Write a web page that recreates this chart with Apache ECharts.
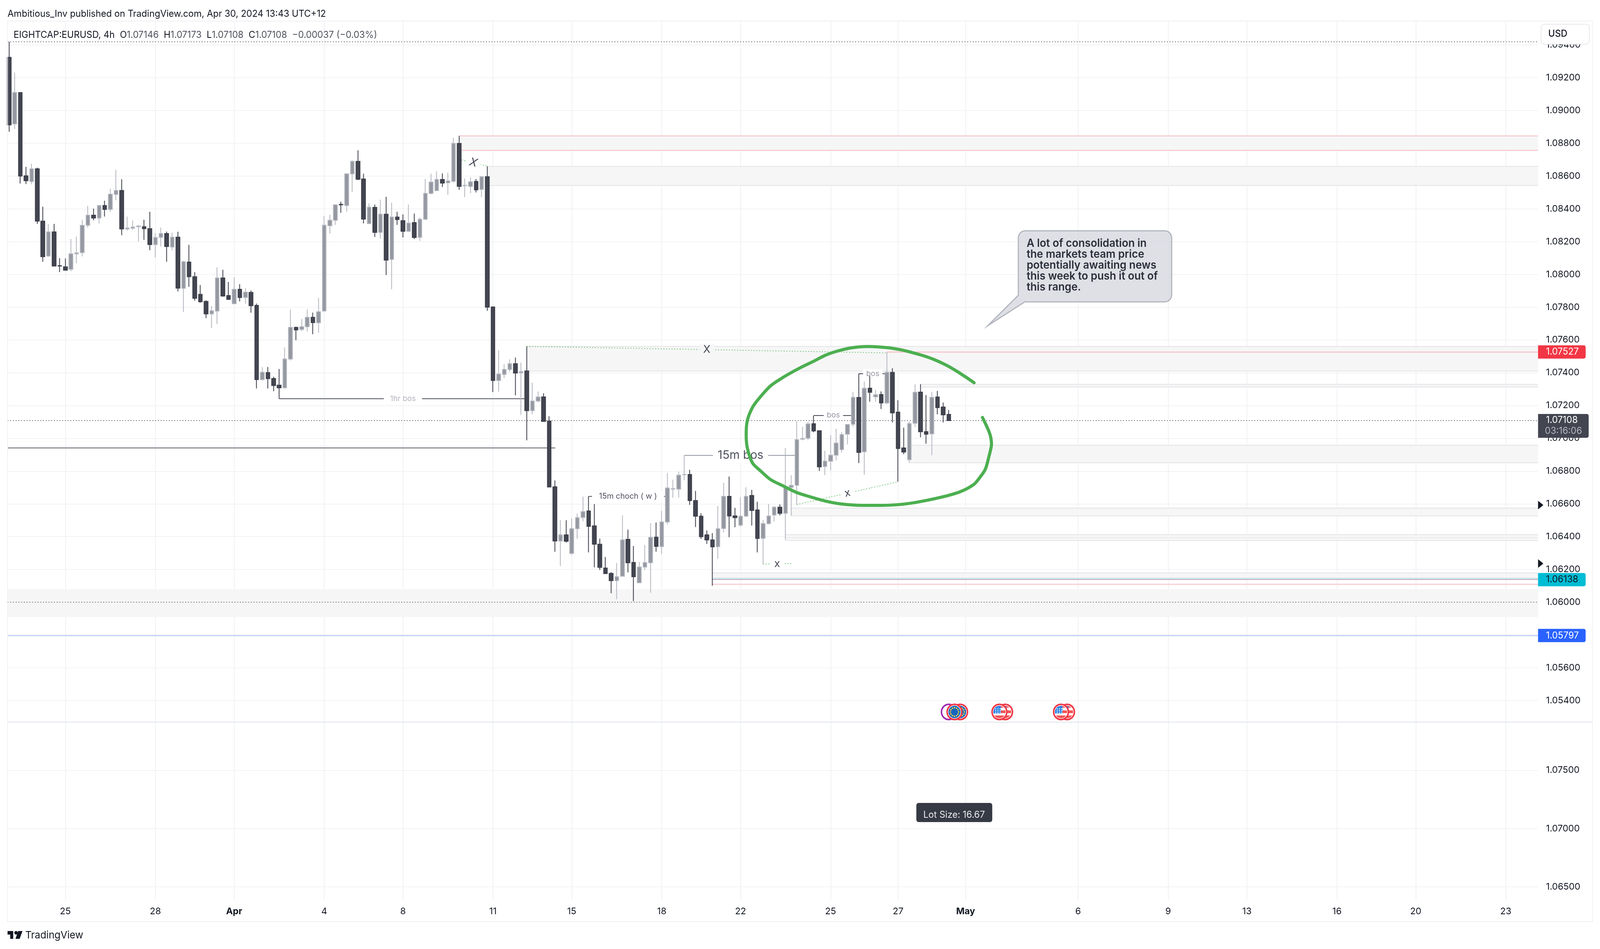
<!DOCTYPE html>
<html>
<head>
<meta charset="utf-8">
<title>EIGHTCAP:EURUSD 4h</title>
<script src="https://cdn.jsdelivr.net/npm/echarts@6/dist/echarts.min.js"></script>
<style>
html, body { margin: 0; background: #fff; }
#chart { width: 100vw; height: 100vh; }
</style>
</head>
<body>
<div id="chart"></div>
<script>
// candles, oldest first
const opens = [
1.09324,1.08918,1.09109,1.08601,1.08566,1.08644,1.08325,1.08112,1.08259,1.08053,
1.08046,1.08031,1.08125,1.08133,1.08300,1.08361,1.08344,1.08420,1.08396,1.08488,
1.08512,1.08277,1.08282,1.08291,1.08291,1.08279,1.08182,1.08226,1.08249,1.08167,
1.08227,1.07915,1.08075,1.07986,1.07878,1.07835,1.07759,1.07776,1.07978,1.07871,
1.07821,1.07909,1.07859,1.07890,1.07811,1.07358,1.07401,1.07365,1.07324,1.07308,
1.07484,1.07677,1.07664,1.07681,1.07738,1.07705,1.07777,1.08297,1.08330,1.08427,
1.08420,1.08613,1.08689,1.08582,1.08310,1.08409,1.08256,1.08367,1.08091,1.08350,
1.08328,1.08263,1.08316,1.08226,1.08336,1.08494,1.08511,1.08579,1.08559,1.08568,
1.08799,1.08541,1.08536,1.08567,1.08518,1.08596,1.07801,1.07353,1.07390,1.07420,
1.07455,1.07399,1.07411,1.07169,1.07228,1.07253,1.07105,1.06704,1.06374,1.06411,
1.06298,1.06449,1.06517,1.06557,1.06466,1.06354,1.06209,1.06176,1.06132,1.06159,
1.06384,1.06243,1.06119,1.06215,1.06241,1.06397,1.06340,1.06490,1.06690,1.06690,
1.06778,1.06779,1.06620,1.06525,1.06411,1.06380,1.06339,1.06450,1.06646,1.06527,
1.06470,1.06525,1.06651,1.06563,1.06390,1.06480,1.06532,1.06580,1.06543,1.06701,
1.06714,1.06995,1.07001,1.07089,1.07046,1.06828,1.06860,1.06897,1.06931,1.07025,
1.07086,1.07249,1.06918,1.07306,1.07253,1.07267,1.07216,1.07402,1.07160,1.06941,
1.06870,1.07092,1.07282,1.07041,1.07027,1.07252,1.07191,1.07146
];
const highs = [
1.09419,1.09231,1.09110,1.08656,1.08675,1.08651,1.08413,1.08306,1.08308,1.08099,
1.08097,1.08216,1.08231,1.08333,1.08418,1.08401,1.08421,1.08449,1.08522,1.08638,
1.08580,1.08352,1.08329,1.08301,1.08333,1.08382,1.08252,1.08285,1.08261,1.08255,
1.08260,1.08085,1.08180,1.08014,1.07935,1.07842,1.07807,1.08043,1.08028,1.07954,
1.07983,1.07940,1.07916,1.07902,1.07822,1.07435,1.07435,1.07376,1.07423,1.07554,
1.07785,1.07681,1.07728,1.07787,1.07767,1.07857,1.08356,1.08364,1.08427,1.08443,
1.08618,1.08695,1.08757,1.08614,1.08433,1.08426,1.08456,1.08473,1.08438,1.08382,
1.08366,1.08426,1.08371,1.08348,1.08582,1.08614,1.08629,1.08616,1.08621,1.08833,
1.08845,1.08585,1.08592,1.08582,1.08598,1.08659,1.07805,1.07537,1.07452,1.07482,
1.07492,1.07462,1.07560,1.07339,1.07286,1.07275,1.07134,1.06743,1.06502,1.06500,
1.06510,1.06541,1.06644,1.06646,1.06599,1.06388,1.06276,1.06184,1.06240,1.06530,
1.06443,1.06343,1.06246,1.06349,1.06482,1.06486,1.06557,1.06788,1.06748,1.06796,
1.06897,1.06808,1.06679,1.06543,1.06438,1.06422,1.06587,1.06729,1.06767,1.06576,
1.06642,1.06701,1.06686,1.06613,1.06502,1.06600,1.06587,1.06597,1.06942,1.06775,
1.07104,1.07070,1.07100,1.07138,1.07048,1.06924,1.07020,1.07058,1.07039,1.07085,
1.07284,1.07394,1.07346,1.07380,1.07297,1.07286,1.07526,1.07427,1.07232,1.07065,
1.07102,1.07330,1.07330,1.07264,1.07284,1.07289,1.07218,1.07173
];
const lows = [
1.08870,1.08887,1.08554,1.08551,1.08549,1.08308,1.08077,1.08107,1.08051,1.08014,
1.08022,1.08019,1.08068,1.08110,1.08286,1.08330,1.08311,1.08353,1.08382,1.08452,
1.08239,1.08267,1.08271,1.08201,1.08211,1.08147,1.08103,1.08170,1.08077,1.08146,
1.07896,1.07770,1.07924,1.07840,1.07828,1.07733,1.07673,1.07697,1.07864,1.07847,
1.07821,1.07835,1.07821,1.07766,1.07304,1.07352,1.07304,1.07287,1.07242,1.07304,
1.07474,1.07598,1.07654,1.07652,1.07635,1.07644,1.07771,1.08249,1.08302,1.08376,
1.08383,1.08502,1.08575,1.08311,1.08310,1.08228,1.08218,1.07996,1.07909,1.08302,
1.08225,1.08260,1.08215,1.08204,1.08334,1.08488,1.08510,1.08533,1.08485,1.08560,
1.08516,1.08471,1.08495,1.08500,1.08471,1.07778,1.07282,1.07285,1.07367,1.07406,
1.07262,1.07144,1.06988,1.07147,1.07219,1.07101,1.06703,1.06308,1.06221,1.06364,
1.06289,1.06387,1.06494,1.06304,1.06213,1.06197,1.06175,1.06055,1.06018,1.06159,
1.06182,1.06007,1.06119,1.06197,1.06058,1.06308,1.06294,1.06475,1.06637,1.06639,
1.06744,1.06594,1.06459,1.06386,1.06356,1.06101,1.06265,1.06425,1.06397,1.06458,
1.06461,1.06525,1.06468,1.06304,1.06232,1.06475,1.06492,1.06530,1.06380,1.06527,
1.06596,1.06988,1.06990,1.07037,1.06801,1.06776,1.06805,1.06865,1.06913,1.06963,
1.07070,1.06849,1.06778,1.07223,1.07223,1.07179,1.07208,1.07097,1.06735,1.06903,
1.06851,1.07069,1.07006,1.06967,1.06897,1.07146,1.07097,1.07108
];
const closes = [
1.08912,1.09109,1.08600,1.08571,1.08644,1.08325,1.08108,1.08259,1.08051,1.08051,
1.08026,1.08125,1.08131,1.08299,1.08361,1.08344,1.08420,1.08396,1.08489,1.08512,
1.08277,1.08283,1.08289,1.08295,1.08279,1.08182,1.08225,1.08249,1.08170,1.08227,
1.07916,1.08077,1.07986,1.07854,1.07833,1.07759,1.07778,1.07978,1.07868,1.07847,
1.07909,1.07859,1.07892,1.07809,1.07358,1.07403,1.07364,1.07322,1.07308,1.07484,
1.07677,1.07661,1.07681,1.07738,1.07706,1.07772,1.08300,1.08330,1.08424,1.08424,
1.08613,1.08689,1.08580,1.08337,1.08410,1.08256,1.08367,1.08087,1.08350,1.08334,
1.08263,1.08313,1.08225,1.08336,1.08494,1.08563,1.08579,1.08557,1.08570,1.08799,
1.08537,1.08543,1.08565,1.08516,1.08596,1.07800,1.07353,1.07392,1.07420,1.07455,
1.07398,1.07407,1.07169,1.07227,1.07252,1.07103,1.06703,1.06374,1.06411,1.06372,
1.06449,1.06516,1.06553,1.06463,1.06354,1.06213,1.06175,1.06132,1.06156,1.06380,
1.06241,1.06156,1.06215,1.06242,1.06396,1.06341,1.06490,1.06697,1.06693,1.06775,
1.06780,1.06620,1.06525,1.06400,1.06380,1.06338,1.06449,1.06646,1.06526,1.06516,
1.06525,1.06646,1.06560,1.06389,1.06480,1.06526,1.06580,1.06542,1.06698,1.06713,
1.06992,1.06999,1.07088,1.07045,1.06826,1.06861,1.06897,1.06971,1.07023,1.07084,
1.07250,1.06914,1.07305,1.07281,1.07266,1.07216,1.07403,1.07155,1.06938,1.06916,
1.07090,1.07281,1.07040,1.07025,1.07250,1.07187,1.07143,1.07108
];

// axis ticks
const xTickIndexes = [10, 26, 40, 56, 70, 86, 100, 116, 130, 146, 158, 170, 190, 206, 220, 236, 250, 266];
const xTickLabels = ['25', '28', 'Apr', '4', '8', '11', '15', '18', '22', '25', '27', 'May', '6', '9', '13', '16', '20', '23'];
const priceTicks = [1.094, 1.092, 1.09, 1.088, 1.086, 1.084, 1.082, 1.08, 1.078, 1.076, 1.074, 1.072, 1.07, 1.068, 1.066, 1.064, 1.062, 1.06, 1.058, 1.056, 1.054];
const lowerPaneTicks = [1.075, 1.07, 1.065];

// supply / demand zones
const zoneStarts = [80, 85, 92, 162, 160, 139, 138, 125, -0.3];
const zoneTops = [1.08845, 1.0866, 1.07561, 1.0733, 1.06958, 1.06575, 1.06413, 1.06179, 1.0608];
const zoneBottoms = [1.08757, 1.08543, 1.0741, 1.07313, 1.06851, 1.06527, 1.06377, 1.06149, 1.0591];
const zoneIsRed = [true, false, false, false, false, false, false, false, false];

// horizontal levels
const lastPrice = 1.07108;
const redLevel = 1.07527;
const cyanLevel = 1.06138;
const pinkLevel = 1.0611;
const blueLevel = 1.05797;
const dottedLevels = [1.09419, lastPrice, 1.06];
const oldStructure = 1.06942;

// structure labels: name, from candle, to candle, prices
const bosNames = ['1hr bos', '15m choch ( w )', '15m bos', 'bos', 'bos'];
const bosFrom = [48, 103, 120, 143, 151];
const bosTo = [92, 117, 140, 150, 156];
const bosPrices = [1.07242, 1.06646, 1.06897, 1.0714, 1.07394];

const liqNames = ['X', 'X', 'x', 'x'];
const liqFrom = [[80, 1.08702], [92, 1.07561], [140, 1.06596], [134, 1.06233]];
const liqTo = [[85, 1.0866], [156, 1.07521], [158, 1.06735], [139, 1.06236]];

// the hand drawn circle
const circleX = [171.5,170.1,168.4,166.7,164.3,162.2,160.2,158.5,156.1,152.6,149.9,147.5,145.1,143.1,140.7,138.6,137.2,135.3,133.3,132.1,131.2,131.0,131.2,132.1,133.6,135.3,137.6,140.0,142.7,145.1,147.8,151.6,155.0,157.8,160.2,163.3,166.3,169.1,171.5,172.5,173.5,174.2,174.6,174.4,173.9,173.0];
const circleY = [1.07339,1.07372,1.0741,1.07444,1.07482,1.07507,1.07526,1.0754,1.07553,1.0756,1.07553,1.07535,1.07507,1.07472,1.07432,1.07393,1.07364,1.07319,1.07244,1.07187,1.07108,1.07022,1.06942,1.06851,1.068,1.06749,1.06709,1.06669,1.0664,1.06617,1.066,1.06591,1.06591,1.06595,1.06604,1.06623,1.06646,1.06675,1.0672,1.0676,1.06811,1.06897,1.06965,1.07016,1.07062,1.07127];

const FONT = 'Inter, "Noto Sans", sans-serif';
const TEXT = '#131722';
const GRID = '#f3f3f5';
const X_MIN = -0.275, X_MAX = 271.74;
// layout numbers below are for a 4236x2430 frame, scaled to the real window
const PLOT_LEFT = 20, PLOT_RIGHT = 4072, PANE_TOP = 54, PANE_SPLIT = 1849, PANE_BOTTOM = 2304;

const chart = echarts.init(document.getElementById('chart'));
const sx = chart.getWidth() / 4236, sy = chart.getHeight() / 2430;
const candles = opens.map((o, i) => [i, o, closes[i], lows[i], highs[i]]);

function seg(x0, y0, x1, y1, color, width, type, label) {
	return [{
		coord: [x0, y0],
		lineStyle: { color, width, type: type || 'solid' },
		label: label || { show: false }
	}, { coord: [x1, y1] }];
}

const DOT = [2, 5];
const zoneEdges = [];
zoneStarts.forEach((s, i) => {
	const c = zoneIsRed[i] ? '#f8bcc2' : '#e4e4e8';
	zoneEdges.push(seg(s, zoneTops[i], X_MAX, zoneTops[i], c, 2));
	zoneEdges.push(seg(s, zoneBottoms[i], X_MAX, zoneBottoms[i], c, 2));
});
zoneEdges.push(seg(138, 1.06395, X_MAX, 1.06395, '#ececef', 2));

const levels = [
	seg(156, redLevel, X_MAX, redLevel, '#f8c6cb', 3),
	seg(125, cyanLevel + 0.00006, X_MAX, cyanLevel + 0.00006, '#b8e6ef', 2),
	seg(125, cyanLevel, X_MAX, cyanLevel, '#c9aab6', 2),
	seg(125, pinkLevel, X_MAX, pinkLevel, '#f8bcc2', 2),
	seg(X_MIN, blueLevel, X_MAX, blueLevel, '#c3d3fc', 3),
	seg(X_MIN, oldStructure, 97.07, oldStructure, '#5d606b', 2)
];
dottedLevels.forEach(p => levels.push(seg(X_MIN, p, X_MAX, p, '#50535e', 2, DOT)));

const bosStyle = {
	'1hr bos': { color: '#b2b5be', fontSize: 20, line: '#50535e', pad: [2, 16] },
	'15m choch ( w )': { color: '#50535e', fontSize: 20.5, line: '#50535e', pad: [2, 18] },
	'15m bos': { color: '#50535e', fontSize: 31, line: '#9598a1', pad: [2, 12] },
	'bos': { color: '#9598a1', fontSize: 20, line: '#434651', pad: [2, 8] }
};
bosNames.forEach((name, i) => {
	const st = bosStyle[name];
	levels.push(seg(bosFrom[i], bosPrices[i], bosTo[i], bosPrices[i], st.line, 2, 'solid', {
		show: true, position: 'insideMiddle', formatter: name, color: st.color,
		fontFamily: FONT, fontSize: st.fontSize * sx, backgroundColor: '#fff', padding: st.pad, distance: 0
	}));
});
liqNames.forEach((name, i) => {
	const bg = i === 1 ? '#f6f6f7' : '#fff';
	levels.push(seg(liqFrom[i][0], liqFrom[i][1], liqTo[i][0], liqTo[i][1], '#4caf50', 2, DOT, {
		show: true, position: 'insideMiddle', formatter: name, color: '#434651',
		fontFamily: FONT, fontSize: (i === 0 ? 30 : 28) * sx, fontStyle: i === 0 ? 'italic' : 'normal',
		backgroundColor: bg, padding: [0, 10], distance: 0
	}));
});

chart.setOption({
	animation: false,
	backgroundColor: '#fff',
	grid: [
		{ left: PLOT_LEFT * sx, right: (4236 - PLOT_RIGHT) * sx, top: PANE_TOP * sy, height: (PANE_SPLIT - PANE_TOP) * sy },
		{ left: PLOT_LEFT * sx, right: (4236 - PLOT_RIGHT) * sx, top: PANE_SPLIT * sy, height: (PANE_BOTTOM - PANE_SPLIT) * sy }
	],
	xAxis: [0, 1].map(i => ({
		type: 'value', gridIndex: i, min: X_MIN, max: X_MAX,
		axisLine: { show: false },
		axisTick: { show: false, customValues: xTickIndexes },
		splitLine: { show: true, lineStyle: { color: '#f0f1f4', width: 2 } },
		axisLabel: i === 0 ? { show: false } : {
			show: true, customValues: xTickIndexes, margin: 19,
			color: TEXT, fontFamily: FONT, fontSize: 24 * sx,
			formatter: v => {
				const t = xTickLabels[xTickIndexes.indexOf(v)];
				return t === 'Apr' || t === 'May' ? '{b|' + t + '}' : t;
			},
			rich: { b: { fontWeight: 700, fontFamily: FONT, fontSize: 24 * sx, color: TEXT } }
		}
	})),
	yAxis: [
		{ min: 1.05269, max: 1.09545, ticks: priceTicks },
		{ min: 1.06389, max: 1.07913, ticks: lowerPaneTicks }
	].map((a, i) => ({
		type: 'value', gridIndex: i, position: 'right', min: a.min, max: a.max,
		axisLine: { show: false },
		axisTick: { show: false, customValues: a.ticks },
		splitLine: { show: true, lineStyle: { color: GRID, width: 2 } },
		axisLabel: {
			customValues: a.ticks, margin: 21 * sx, color: TEXT,
			fontFamily: FONT, fontSize: 24 * sx,
			formatter: v => v.toFixed(5)
		}
	})),
	series: [
		{
			name: 'zones', type: 'line', data: [], xAxisIndex: 0, yAxisIndex: 0, z: 1, silent: true,
			markArea: {
				silent: true, z: 1,
				itemStyle: { color: '#f6f6f7' },
				data: zoneStarts.map((s, i) => [{ coord: [s, zoneTops[i]] }, { coord: [X_MAX, zoneBottoms[i]] }])
			},
			markLine: { silent: true, z: 1, symbol: 'none', data: zoneEdges.concat(levels) }
		},
		{
			name: 'EURUSD', type: 'candlestick', xAxisIndex: 0, yAxisIndex: 0, z: 3,
			barWidth: 10,
			itemStyle: {
				color: '#9598a1', color0: '#434651',
				borderColor: '#b2b5be', borderColor0: '#383b46', borderWidth: 2
			},
			data: candles
		},
		{
			name: 'circle', type: 'line', xAxisIndex: 0, yAxisIndex: 0, z: 10, silent: true,
			smooth: 0.3, showSymbol: false,
			lineStyle: { color: '#4caf50', width: 8, cap: 'round' },
			data: circleX.map((x, i) => [x, circleY[i]])
		}
	]
});

// overlays that are not marks of the chart, in 4236x2430 frame units
const priceY = v => chart.convertToPixel({ yAxisIndex: 0 }, v) / sy;

function clippedRect(x0, x1, y0, y1, r) {
	const right = [], left = [];
	for (let k = 0; k <= 8; k++) {
		const y = y0 + (y1 - y0) * k / 8;
		const w = Math.sqrt(Math.max(r * r - y * y, 0));
		right.push([Math.min(x1, w), y]);
		left.unshift([Math.max(x0, -w), y]);
	}
	return right.concat(left);
}

function ring(cx, cy, stroke) {
	return { type: 'circle', x: cx, y: cy, shape: { r: 19.5 }, style: { fill: '#fff', stroke, lineWidth: 4 } };
}

function euFlag(cx, cy) {
	const els = [ring(cx, cy, '#f23645'), { type: 'circle', x: cx, y: cy, shape: { r: 16 }, style: { fill: '#1565c0' } }];
	for (let k = 0; k < 12; k++) {
		const a = k * Math.PI / 6;
		els.push({ type: 'circle', x: cx + 11 * Math.cos(a), y: cy + 11 * Math.sin(a), shape: { r: 2 }, style: { fill: '#fdd835' } });
	}
	return els;
}

function usFlag(cx, cy) {
	const els = [ring(cx, cy, '#f23645')];
	[[-16, -11], [-4, 3], [9, 16]].forEach(s => {
		els.push({ type: 'polygon', x: cx, y: cy, shape: { points: clippedRect(-16, 16, s[0], s[1], 16) }, style: { fill: '#f25555' } });
	});
	els.push({ type: 'polygon', x: cx, y: cy, shape: { points: clippedRect(-16, 4, -16, 4, 16) }, style: { fill: '#2e86e6' } });
	[[-10, -8], [-4, -8], [2, -8], [-10, -3], [-4, -3], [2, -3], [-10, 2], [-4, 2], [2, 2]].forEach(p => {
		els.push({ type: 'circle', x: cx + p[0], y: cy + p[1], shape: { r: 1.5 }, style: { fill: '#fff' } });
	});
	return els;
}

function calloutPoints() {
	const L = 2696, R = 3102, T = 591, B = 773, r = 18;
	const pts = [];
	const arc = (cx, cy, from) => {
		for (let k = 0; k <= 6; k++) {
			const a = (from + k * 15) * Math.PI / 180;
			pts.push([cx + r * Math.cos(a), cy + r * Math.sin(a)]);
		}
	};
	arc(L + r, T + r, 180);
	arc(R - r, T + r, 270);
	arc(R - r, B - r, 0);
	pts.push([2713, B], [2615, 834], [L, 756]);
	return pts;
}

function priceTag(value, bg, color) {
	const y = priceY(value);
	return [
		{ type: 'rect', shape: { x: PLOT_RIGHT, y: y - 17, width: 126, height: 34, r: [0, 5, 5, 0] }, style: { fill: bg } },
		{ type: 'text', x: 4093, y, style: { text: value.toFixed(5), fill: color, font: '24px ' + FONT, textVerticalAlign: 'middle' } }
	];
}

const lastY = priceY(lastPrice);
const triangleY = [priceY(1.06593), priceY(1.06236)];

const overlay = [
	{ type: 'rect', shape: { x: PLOT_LEFT, y: PANE_TOP, width: 4196, height: 2306 }, style: { fill: 'none', stroke: '#f0f0f3', lineWidth: 2 } },
	{ type: 'line', shape: { x1: PLOT_LEFT, y1: PANE_SPLIT, x2: 4216, y2: PANE_SPLIT }, style: { stroke: '#e0e3eb', lineWidth: 2 } },

	{
		type: 'text', x: 20, y: 36,
		style: { text: 'Ambitious_Inv published on TradingView.com, Apr 30, 2024 13:43 UTC+12', fill: TEXT, font: '24px ' + FONT, textVerticalAlign: 'middle' }
	},
	{
		type: 'text', x: 36, y: 90,
		style: {
			text: '{k|EIGHTCAP:EURUSD, 4h  O}{v|1.07146}{k|  H}{v|1.07173}{k|  L}{v|1.07108}{k|  C}{v|1.07108}{v|  −0.00037 (−0.03%)}',
			textVerticalAlign: 'middle',
			rich: {
				k: { fill: TEXT, font: '24px ' + FONT },
				v: { fill: '#50535e', font: '24px ' + FONT }
			}
		}
	},

	{ type: 'rect', shape: { x: 4080, y: 62, width: 128, height: 51, r: 8 }, style: { fill: '#fff', stroke: '#e8e8ec', lineWidth: 2 } },
	{ type: 'text', x: 4099, y: 87, style: { text: 'USD', fill: TEXT, font: '500 24px ' + FONT, textVerticalAlign: 'middle' } },

	{ type: 'rect', shape: { x: PLOT_RIGHT, y: lastY - 17, width: 134, height: 61, r: [0, 5, 5, 0] }, style: { fill: '#434651' } },
	{ type: 'text', x: 4093, y: lastY - 1, style: { text: lastPrice.toFixed(5), fill: '#fff', font: '24px ' + FONT, textVerticalAlign: 'middle' } },
	{ type: 'text', x: 4090, y: lastY + 27, style: { text: '03:16:06', fill: '#b2b5be', font: '24px ' + FONT, textVerticalAlign: 'middle' } },

	{ type: 'polygon', shape: { points: [[4072, triangleY[0] - 11], [4086, triangleY[0]], [4072, triangleY[0] + 11]] }, style: { fill: TEXT } },
	{ type: 'polygon', shape: { points: [[4072, triangleY[1] - 11], [4086, triangleY[1]], [4072, triangleY[1] + 11]] }, style: { fill: TEXT } },

	{ type: 'polygon', shape: { points: calloutPoints() }, style: { fill: 'rgba(212,214,222,0.75)', stroke: '#b2b5be', lineWidth: 3 } },
	{
		type: 'text', x: 2718, y: 610,
		style: {
			text: 'A lot of consolidation in\nthe markets team price\npotentially awaiting news\nthis week to push it out of\nthis range.',
			fill: '#2a2e39', font: '600 28px ' + FONT, lineHeight: 28
		}
	},

	{ type: 'rect', shape: { x: 2426, y: 2056, width: 201, height: 49, r: 6 }, style: { fill: '#363a45' } },
	{ type: 'text', x: 2526, y: 2087, style: { text: 'Lot Size: 16.67', fill: '#e8e8ec', font: '24px ' + FONT, textAlign: 'center', textVerticalAlign: 'middle' } },

	{ type: 'polygon', shape: { points: [[20, 2384], [35, 2384], [35, 2404], [27, 2404], [27, 2393], [20, 2393]] }, style: { fill: TEXT } },
	{ type: 'circle', x: 42.5, y: 2388.5, shape: { r: 4.5 }, style: { fill: TEXT } },
	{ type: 'polygon', shape: { points: [[48, 2384], [59.5, 2384], [52, 2404], [41, 2404]] }, style: { fill: TEXT } },
	{ type: 'text', x: 67, y: 2395, style: { text: 'TradingView', fill: TEXT, font: '400 26px ' + FONT, textVerticalAlign: 'middle' } }
];

overlay.push(...priceTag(redLevel, '#f23645', '#fff'));
overlay.push(...priceTag(cyanLevel, '#00bcd4', TEXT));
overlay.push(...priceTag(blueLevel, '#2962ff', '#fff'));

overlay.push(ring(2512, 1823, '#9c27b0'));
overlay.push(...euFlag(2542, 1823), ...euFlag(2527, 1823));
overlay.push(...usFlag(2661, 1823), ...usFlag(2646, 1823));
overlay.push(...usFlag(2825, 1823), ...usFlag(2809, 1823));

chart.setOption({
	graphic: {
		elements: [{
			type: 'group', z: 100, scaleX: sx, scaleY: sy, silent: true,
			children: overlay.map(e => Object.assign({ z: 100, silent: true }, e))
		}]
	}
});
</script>
</body>
</html>
